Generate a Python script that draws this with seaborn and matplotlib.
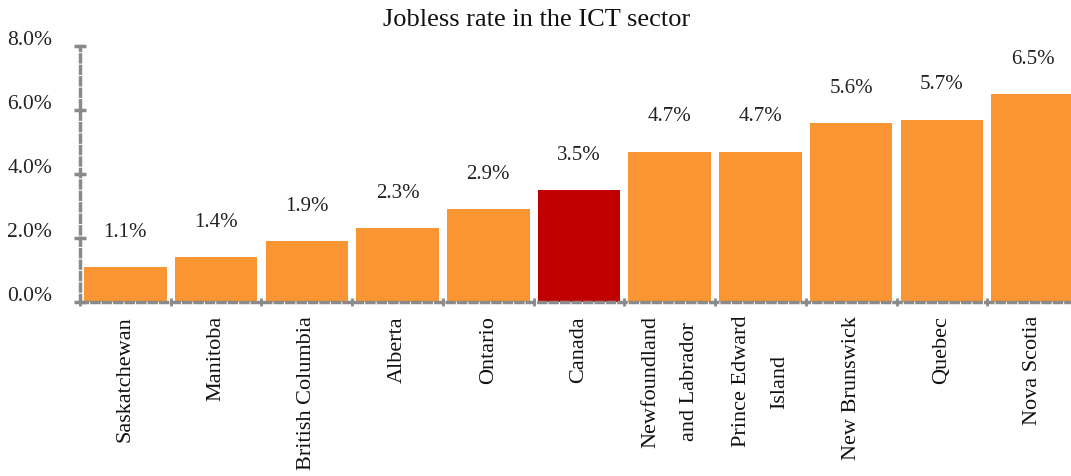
import matplotlib
matplotlib.use("Agg")
import matplotlib.pyplot as plt
import matplotlib.transforms as mtransforms
import seaborn as sns
import pandas as pd

categories = ["Saskatchewan", "Manitoba", "British Columbia", "Alberta", "Ontario",
              "Canada", "Newfoundland\nand Labrador", "Prince Edward\nIsland",
              "New Brunswick", "Quebec", "Nova Scotia"]
values = [1.1, 1.4, 1.9, 2.3, 2.9, 3.5, 4.7, 4.7, 5.6, 5.7, 6.5]
value_labels = ["1.1%", "1.4%", "1.9%", "2.3%", "2.9%", "3.5%", "4.7%", "4.7%", "5.6%", "5.7%", "6.5%"]
yticks = [0, 2, 4, 6, 8]
ytick_labels = ["0.0%", "2.0%", "4.0%", "6.0%", "8.0%"]
highlight = "Canada"
title = "Jobless rate in the ICT sector"

ORANGE = "#F99633"
RED = "#C00000"
GRAY = "#8A8A8A"

sns.set_style("white")
plt.rcParams["font.family"] = ["Liberation Serif", "DejaVu Serif"]

df = pd.DataFrame({"region": categories, "rate": values})
palette = {c: (RED if c == highlight else ORANGE) for c in categories}

fig = plt.figure(figsize=(10.71, 4.76), dpi=100)
ax = fig.add_axes([80 / 1071, 174 / 476, 998 / 1071, 256 / 476])
sns.barplot(data=df, x="region", y="rate", hue="region", palette=palette,
            legend=False, width=0.91, saturation=1, ax=ax, linewidth=0)

ax.set_xlim(-0.5, len(categories) - 0.5)
ax.set_ylim(0, 8)
ax.set_yticks(yticks)
ax.set_yticklabels(ytick_labels, fontsize=15.5, color="#222222")
ax.set_xticks(range(len(categories)))
ax.set_xticklabels(categories, rotation=90, fontsize=16, va="top", ha="center",
                   multialignment="center", linespacing=2.4, color="#111111")
ax.tick_params(axis="both", which="both", bottom=True, left=True)
ax.tick_params(axis="x", which="major", length=0, pad=10)
ax.set_xticks([i - 0.5 for i in range(len(categories) + 1)], minor=True)
ax.tick_params(axis="x", which="minor", length=6, width=2, color=GRAY, direction="inout")
ax.tick_params(axis="y", length=8, width=2.5, color=GRAY, direction="inout", pad=16)
ax.set_xlabel("")
ax.set_ylabel("")

offset = mtransforms.ScaledTranslation(0, 8 / 100, fig.dpi_scale_trans)
for lab in ax.get_yticklabels():
    lab.set_transform(lab.get_transform() + offset)

for s in ["top", "right"]:
    ax.spines[s].set_visible(False)
for s in ["left", "bottom"]:
    ax.spines[s].set_color(GRAY)
    ax.spines[s].set_linewidth(2.5)
    ax.spines[s].set_linestyle((0, (2, 1.3)))

for i, (v, t) in enumerate(zip(values, value_labels)):
    ax.annotate(t, (i, v), xytext=(0, 25), textcoords="offset points",
                ha="center", va="center", fontsize=15, color="#222222")

fig.text(537 / 1071, 1 - 20 / 476, title, ha="center", va="center", fontsize=19, color="#111111")

fig.savefig("out.png", dpi=100)
